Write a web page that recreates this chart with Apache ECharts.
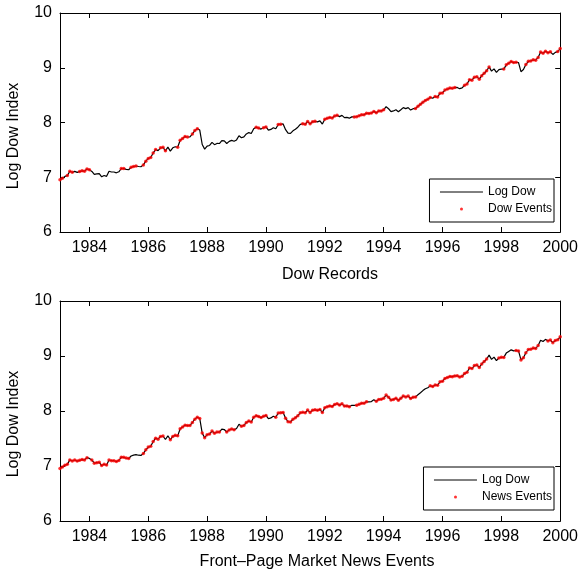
<!DOCTYPE html>
<html lang="en">
<head>
    <meta charset="UTF-8">
    <title>Log Dow Index</title>
    <style>
        html, body {
            margin: 0;
            padding: 0;
            background: #fff;
        }
        #main {
            width: 581px;
            height: 572px;
        }
    </style>
</head>
<body>
<div id="main"></div>
<script src="https://cdn.jsdelivr.net/npm/echarts@6/dist/echarts.min.js"></script>
<script>
    // month-end log Dow values, first point is the start of 1983
    var startYear = 1983;
    var logDow = [
        6.953,
        6.981, 7.015, 7.030, 7.111, 7.090, 7.108, 7.089, 7.103, 7.117, 7.111, 7.151, 7.138, // 1983
        7.107, 7.052, 7.061, 7.066, 7.008, 7.032, 7.017, 7.110, 7.096, 7.096, 7.081, 7.100, // 1984
        7.160, 7.158, 7.144, 7.137, 7.181, 7.197, 7.206, 7.196, 7.192, 7.226, 7.294, 7.344, // 1985
        7.360, 7.444, 7.506, 7.487, 7.537, 7.546, 7.482, 7.549, 7.478, 7.538, 7.557, 7.548, // 1986
        7.677, 7.707, 7.743, 7.735, 7.737, 7.791, 7.852, 7.887, 7.862, 7.598, 7.514, 7.570, // 1987
        7.580, 7.636, 7.595, 7.617, 7.616, 7.669, 7.663, 7.617, 7.656, 7.673, 7.657, 7.682, // 1988
        7.759, 7.722, 7.738, 7.791, 7.816, 7.800, 7.887, 7.915, 7.898, 7.880, 7.903, 7.920, // 1989
        7.860, 7.874, 7.904, 7.885, 7.964, 7.966, 7.974, 7.869, 7.805, 7.800, 7.848, 7.876, // 1990
        7.914, 7.966, 7.977, 7.968, 8.016, 7.975, 8.015, 8.021, 8.012, 8.029, 7.971, 8.061, // 1991
        8.078, 8.092, 8.082, 8.119, 8.131, 8.107, 8.130, 8.089, 8.093, 8.079, 8.103, 8.102, // 1992
        8.105, 8.123, 8.142, 8.140, 8.168, 8.165, 8.172, 8.203, 8.176, 8.211, 8.212, 8.231, // 1993
        8.289, 8.251, 8.199, 8.211, 8.232, 8.196, 8.233, 8.272, 8.254, 8.271, 8.227, 8.252, // 1994
        8.254, 8.297, 8.333, 8.371, 8.404, 8.424, 8.457, 8.444, 8.474, 8.467, 8.532, 8.540, // 1995
        8.593, 8.610, 8.628, 8.625, 8.638, 8.640, 8.618, 8.633, 8.680, 8.704, 8.783, 8.772, // 1996
        8.827, 8.836, 8.792, 8.855, 8.900, 8.945, 9.015, 8.939, 8.980, 8.915, 8.965, 8.976, // 1997
        8.975, 9.053, 9.083, 9.112, 9.094, 9.100, 9.092, 8.928, 8.967, 9.059, 9.118, 9.125, // 1998
        9.144, 9.138, 9.189, 9.286, 9.265, 9.303, 9.274, 9.290, 9.243, 9.281, 9.295, 9.350  // 1999
    ];

    // periods with Dow record events
    var dowEventRanges = [
        [1983.0, 1983.1], [1983.25, 1983.45], [1983.65, 1984.0],
        [1985.05, 1985.2], [1985.35, 1985.6], [1985.8, 1986.3], [1986.4, 1986.6],
        [1986.95, 1987.35], [1987.45, 1987.67],
        [1989.6, 1989.82], [1989.9, 1990.0], [1990.34, 1990.55],
        [1991.23, 1991.7], [1991.95, 1992.42],
        [1993.0, 1993.8], [1993.82, 1994.08],
        [1995.08, 1995.65], [1995.75, 1996.45], [1996.7, 1997.1], [1997.15, 1997.6],
        [1998.05, 1998.5], [1998.83, 1999.27], [1999.3, 1999.7], [1999.9, 2000.0]
    ];

    // periods without front-page news events (everything else has them)
    var newsGapRanges = [
        [1983.93, 1984.05], [1985.4, 1985.75], [1986.55, 1986.72],
        [1988.42, 1988.6], [1989.0, 1989.15], [1990.05, 1990.25],
        [1992.9, 1993.05], [1993.5, 1993.72], [1995.1, 1995.5],
        [1997.58, 1997.88], [1998.1, 1998.45], [1999.32, 1999.5]
    ];

    var yearTicks = [1984, 1986, 1988, 1990, 1992, 1994, 1996, 1998, 2000];

    var points = logDow.map(function (v, i) {
        return [startYear + i / 12, v];
    });

    function inRanges(x, ranges) {
        for (var i = 0; i < ranges.length; i++) {
            if (x >= ranges[i][0] - 1e-6 && x <= ranges[i][1] + 1e-6) return true;
        }
        return false;
    }

    var dowEvents = points.filter(function (p) { return inRanges(p[0], dowEventRanges); });
    var newsEvents = points.filter(function (p) { return !inRanges(p[0], newsGapRanges); });

    var font = 'Liberation Sans, Arial, Helvetica, sans-serif';

    function xAxisPair(gridIndex) {
        return [{
            type: 'value', gridIndex: gridIndex, position: 'bottom',
            min: 1983, max: 2000,
            axisLine: { lineStyle: { color: '#000', width: 1 } },
            axisTick: { inside: true, length: 5, customValues: yearTicks, lineStyle: { color: '#000' } },
            axisLabel: {
                customValues: yearTicks, color: '#000', fontSize: 16, fontFamily: font, margin: 8,
                formatter: function (v) { return String(v); }
            },
            splitLine: { show: false }
        }, {
            type: 'value', gridIndex: gridIndex, position: 'top',
            min: 1983, max: 2000,
            axisLine: { lineStyle: { color: '#000', width: 1 } },
            axisTick: { inside: true, length: 5, customValues: yearTicks, lineStyle: { color: '#000' } },
            axisLabel: { show: false },
            splitLine: { show: false }
        }];
    }

    function yAxisPair(gridIndex) {
        return [{
            type: 'value', gridIndex: gridIndex, position: 'left',
            min: 6, max: 10, interval: 1,
            axisLine: { show: true, lineStyle: { color: '#000', width: 1 } },
            axisTick: { show: true, inside: true, length: 5, lineStyle: { color: '#000' } },
            axisLabel: { color: '#000', fontSize: 16, fontFamily: font, margin: 8 },
            splitLine: { show: false }
        }, {
            type: 'value', gridIndex: gridIndex, position: 'right',
            min: 6, max: 10, interval: 1,
            axisLine: { show: true, lineStyle: { color: '#000', width: 1 } },
            axisTick: { show: true, inside: true, length: 5, lineStyle: { color: '#000' } },
            axisLabel: { show: false },
            splitLine: { show: false }
        }];
    }

    function legendBox(top, eventName) {
        return {
            data: [{ name: 'Log Dow', itemStyle: { opacity: 0 } }, eventName],
            right: 27, top: top,
            orient: 'vertical',
            selectedMode: false,
            itemWidth: 43, itemHeight: 3, itemGap: 5,
            padding: [7, 2, 7, 10],
            borderColor: '#000', borderWidth: 1, borderRadius: 0,
            backgroundColor: '#fff',
            lineStyle: { width: 1 },
            textStyle: { color: '#000', fontSize: 12, fontFamily: font }
        };
    }

    var chart = echarts.init(document.getElementById('main'));

    var option = {
        animation: false,
        backgroundColor: '#fff',
        grid: [
            { left: 60, right: 19, top: 13, height: 219 },
            { left: 60, right: 19, top: 301, height: 220 }
        ],
        xAxis: xAxisPair(0).concat(xAxisPair(1)),
        yAxis: yAxisPair(0).concat(yAxisPair(1)),
        legend: [
            legendBox(179, 'Dow Events'),
            legendBox(467, 'News Events')
        ],
        graphic: [
            { type: 'text', x: 330, y: 275, style: { text: 'Dow Records', fill: '#000', font: '16px ' + font, align: 'center', verticalAlign: 'middle' } },
            { type: 'text', x: 317, y: 562, style: { text: 'Front–Page Market News Events', fill: '#000', font: '16px ' + font, align: 'center', verticalAlign: 'middle' } },
            { type: 'text', x: 14, y: 136, rotation: Math.PI / 2, style: { text: 'Log Dow Index', fill: '#000', font: '16px ' + font, align: 'center', verticalAlign: 'middle' } },
            { type: 'text', x: 14, y: 424, rotation: Math.PI / 2, style: { text: 'Log Dow Index', fill: '#000', font: '16px ' + font, align: 'center', verticalAlign: 'middle' } }
        ],
        series: [
            {
                name: 'Log Dow', type: 'line', xAxisIndex: 0, yAxisIndex: 0,
                data: points, symbol: 'none', color: '#000',
                lineStyle: { color: '#000', width: 1.2 }, z: 2
            },
            {
                name: 'Dow Events', type: 'scatter', xAxisIndex: 0, yAxisIndex: 0,
                data: dowEvents, symbol: 'circle', symbolSize: 3.5, color: '#ff0000',
                itemStyle: { color: '#ff0000' }, z: 3
            },
            {
                name: 'Log Dow', type: 'line', xAxisIndex: 2, yAxisIndex: 2,
                data: points, symbol: 'none', color: '#000',
                lineStyle: { color: '#000', width: 1.2 }, z: 2
            },
            {
                name: 'News Events', type: 'scatter', xAxisIndex: 2, yAxisIndex: 2,
                data: newsEvents, symbol: 'circle', symbolSize: 3.5, color: '#ff0000',
                itemStyle: { color: '#ff0000' }, z: 3
            }
        ]
    };

    chart.setOption(option);
</script>
</body>
</html>
